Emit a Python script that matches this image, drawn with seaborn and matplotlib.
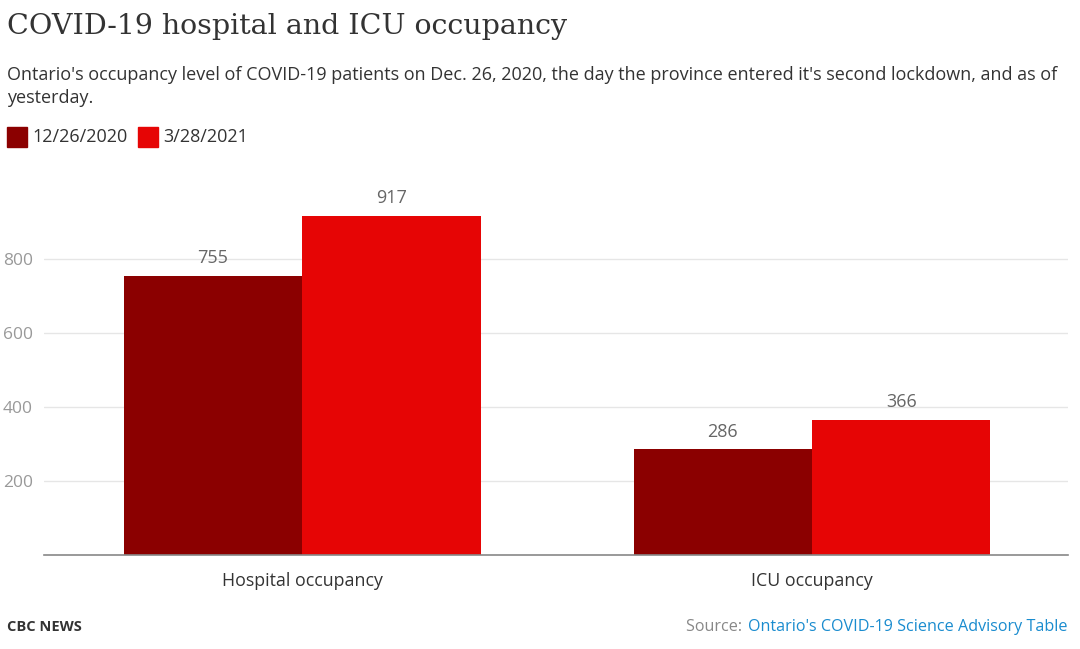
import matplotlib
matplotlib.use("Agg")
import matplotlib.pyplot as plt
import seaborn as sns
import pandas as pd
from matplotlib.patches import Rectangle

categories = ["Hospital occupancy", "ICU occupancy"]
series_names = ["12/26/2020", "3/28/2021"]
values_dec = [755, 286]
values_mar = [917, 366]
yticks = [200, 400, 600, 800]

colors = ["#8b0000", "#e60505"]

df = pd.DataFrame({
    "category": categories * 2,
    "date": [series_names[0]] * 2 + [series_names[1]] * 2,
    "value": values_dec + values_mar,
})

sns.set_theme(style="white")
plt.rcParams['font.family'] = ['Open Sans', 'DejaVu Sans']

fig = plt.figure(figsize=(10.8, 6.49), dpi=100)
W, H = 1080, 649
ax_left, ax_right = 44, 1068
ax_top, ax_bot = 185, 555
ax = fig.add_axes([ax_left / W, 1 - ax_bot / H, (ax_right - ax_left) / W, (ax_bot - ax_top) / H])

sns.barplot(data=df, x="category", y="value", hue="date", palette=colors,
            width=0.7, saturation=1, ax=ax, legend=False, dodge=True, linewidth=0)

for c in ax.containers:
    ax.bar_label(c, labels=[f"{int(v)}" for v in c.datavalues], padding=6,
                 fontsize=13, color="#666666")

ax.set_ylim(0, 1000)
ax.set_xlim(-0.506, 1.502)
ax.set_yticks(yticks)
ax.set_yticklabels([str(t) for t in yticks], color="#999999", fontsize=12.5)
ax.tick_params(axis="y", length=0, pad=8)
ax.tick_params(axis="x", length=0, pad=12, labelsize=12.8, labelcolor="#333333")
ax.grid(axis="y", color="#e6e6e6", linewidth=1)
ax.set_axisbelow(True)
for s in ["top", "right", "left"]:
    ax.spines[s].set_visible(False)
ax.spines["bottom"].set_color("#888888")
ax.spines["bottom"].set_linewidth(1.2)
ax.set_xlabel("")
ax.set_ylabel("")

# Title and subtitle
fig.text(7 / W, 1 - 27 / H, "COVID-19 hospital and ICU occupancy", fontsize=20.5,
         family=["DejaVu Serif"], color="#333333", va="center", ha="left")
fig.text(7 / W, 1 - 75 / H,
         "Ontario's occupancy level of COVID-19 patients on Dec. 26, 2020, the day the province entered it's second lockdown, and as of",
         fontsize=13, color="#333333", va="center", ha="left")
fig.text(7 / W, 1 - 98 / H, "yesterday.", fontsize=13, color="#333333", va="center", ha="left")

# Legend
fig.canvas.draw()
renderer = fig.canvas.get_renderer()
lx = 7
for name, col in zip(series_names, colors):
    fig.patches.append(Rectangle((lx / W, 1 - 147 / H), 20 / W, 20 / H,
                                 transform=fig.transFigure, color=col))
    t = fig.text((lx + 25) / W, 1 - 137 / H, name, fontsize=13, color="#333333",
                 va="center", ha="left")
    bb = t.get_window_extent(renderer)
    lx = bb.x1 + 11

# Footer
fig.text(7 / W, 1 - 627 / H, "CBC NEWS", fontsize=10.5, fontweight="bold", color="#333333",
         va="center", ha="left")
t1 = fig.text(1068 / W, 1 - 627 / H, "Ontario's COVID-19 Science Advisory Table", fontsize=11.6,
              color="#1a8ccf", va="center", ha="right")
fig.canvas.draw()
bb = t1.get_window_extent()
fig.text((bb.x0 - 2) / W, 1 - 627 / H, "Source: ", fontsize=11.6, color="#888888",
         va="center", ha="right")

fig.savefig("out.png", dpi=100)
